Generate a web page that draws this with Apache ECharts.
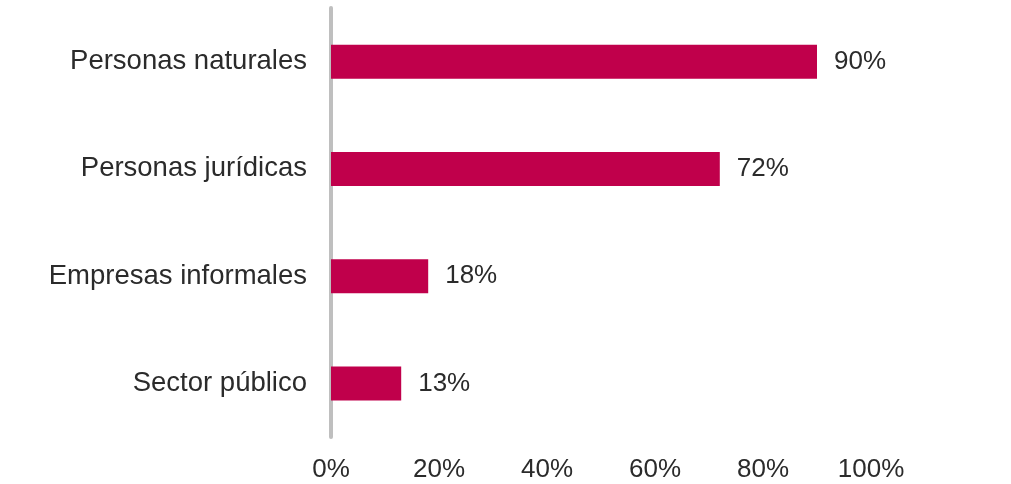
<!DOCTYPE html>
<html>
<head>
<meta charset="utf-8">
<script src="https://cdn.jsdelivr.net/npm/echarts@6/dist/echarts.min.js"></script>
<style>
html,body{margin:0;padding:0;background:#fff;}
#c{width:1011px;height:484px;}
</style>
</head>
<body>
<div id="c"></div>
<script>
const categories = ["Personas naturales", "Personas jurídicas", "Empresas informales", "Sector público"];
const values = [90, 72, 18, 13];
const tickValues = [0, 20, 40, 60, 80, 100];

const chart = echarts.init(document.getElementById('c'), null, {renderer: 'canvas'});
const font = 'Liberation Sans, Arial, sans-serif';
chart.setOption({
  animation: false,
  backgroundColor: '#ffffff',
  grid: {left: 331, right: 140, top: 8, bottom: 47, containLabel: false},
  xAxis: {
    type: 'value', min: 0, max: 100, interval: 20,
    axisLine: {show: false}, axisTick: {show: false}, splitLine: {show: false},
    axisLabel: {
      margin: 20, fontSize: 26, color: '#2b2b2b', fontFamily: font,
      formatter: v => tickValues.includes(v) ? v + '%' : ''
    }
  },
  yAxis: {
    type: 'category', inverse: true, data: categories,
    axisLine: {show: true, lineStyle: {color: '#bfbfbf', width: 4}},
    axisTick: {show: false},
    axisLabel: {margin: 24, fontSize: 27.5, color: '#2b2b2b', fontFamily: font}
  },
  series: [{
    type: 'bar', data: values, barWidth: 34,
    itemStyle: {color: '#c0004b'},
    label: {
      show: true, position: 'right', distance: 17,
      fontSize: 26, color: '#2b2b2b', fontFamily: font,
      formatter: p => p.value + '%'
    }
  }]
});
</script>
</body>
</html>
